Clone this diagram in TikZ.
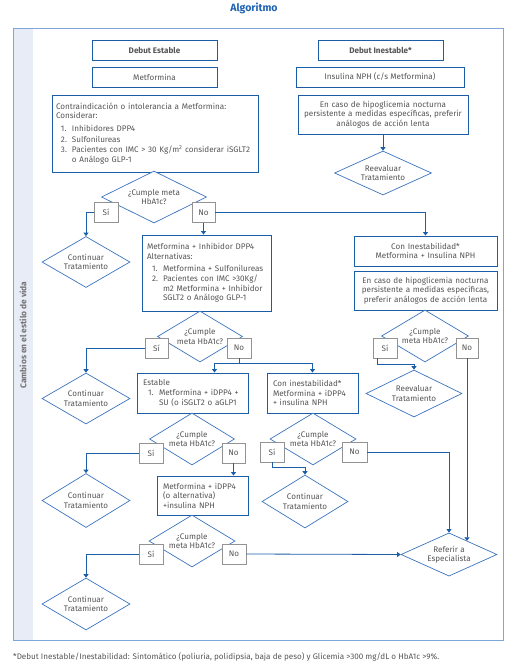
\documentclass[tikz,border=0pt]{standalone}
\usepackage{fontspec}
\setmainfont{Fira Sans}
\usetikzlibrary{shapes.geometric,arrows.meta}

\definecolor{boxblue}{HTML}{1B5EA6}
\definecolor{diablue}{HTML}{3C74BE}
\definecolor{frameblue}{HTML}{7FA6DA}
\definecolor{bandfill}{HTML}{E8ECF7}
\definecolor{txtgray}{HTML}{555555}
\definecolor{titleblue}{HTML}{1F63B3}

\newcommand{\numit}[1]{\hspace*{5pt}\makebox[11pt][l]{#1.}}
\newcommand{\contit}{\hspace*{16pt}}

\begin{document}
\begin{tikzpicture}[
    x=1pt, y=-1pt,
    font=\fontsize{8.1}{9.6}\selectfont,
    text=txtgray
]

% =========================
% Styles
% =========================
\tikzstyle{stepbox} = [
    rectangle, draw=boxblue,
    line width=0.9pt,
    fill=white,
    inner sep=2pt
]

\tikzstyle{textbox} = [
    stepbox,
    align=left,
    inner xsep=5pt
]

\tikzstyle{decision} = [
    diamond, draw=diablue,
    line width=0.7pt,
    aspect=1.7,
    inner sep=0pt,
    fill=white,
    align=center
]

\tikzstyle{answer} = [
    rectangle, draw=gray!85,
    line width=0.6pt,
    fill=white,
    inner sep=0pt,
    minimum width=24pt,
    minimum height=20pt
]

\tikzstyle{line} = [draw=boxblue, line width=0.8pt, -{Triangle[width=5pt,length=3.5pt]}]

\useasboundingbox (0,0) rectangle (527,672);

% =========================
% Frame
% =========================
\fill[bandfill] (13,28) rectangle (33,640);
\draw[frameblue, line width=0.8pt] (13,28) rectangle (503,640);

\node[font=\bfseries\fontsize{10.5}{12}\selectfont, text=titleblue] (titulo) at (254,8) {Algoritmo};

\node[rotate=90, font=\bfseries\fontsize{8.4}{10}\selectfont, text=gray!90!black] (banda) at (23,335)
    {Cambios en el estilo de vida};

% =========================
% Nodes (FIXED POSITIONS)
% =========================
\node[stepbox, minimum width=125pt, minimum height=20pt, font=\bfseries\fontsize{8.1}{9.6}\selectfont] (debest) at (154.5,50)
    {Debut Estable};
\node[stepbox, minimum width=125pt, minimum height=20pt, font=\bfseries\fontsize{8.1}{9.6}\selectfont] (debinest) at (380.5,50)
    {Debut Inestable*};

\node[stepbox, minimum width=125pt, minimum height=20pt] (metf) at (154.5,77)
    {Metformina};
\node[stepbox, minimum width=168pt, minimum height=20pt] (nph) at (380,77)
    {Insulina NPH (c/s Metformina)};

\node[textbox, text width=198pt, minimum height=77pt, inner xsep=4pt] (contra) at (155,133.5)
    {Contraindicación o intolerancia a Metformina:\\
     Considerar:\\[3pt]
     \numit{1}Inhibidores DPP4\\[1pt]
     \numit{2}Sulfonilureas\\[1pt]
     \numit{3}Pacientes con IMC > 30 Kg/m\textsuperscript{2} considerar iSGLT2\\
     \contit o Análogo GLP-1};

\node[stepbox, text width=167pt, minimum height=39pt, align=center, inner xsep=1.5pt] (hipo1) at (383,114.5)
    {En caso de hipoglicemia nocturna\\persistente a medidas específicas, preferir\\análogos de acción lenta};

\node[decision, minimum width=97pt, minimum height=44pt] (reev1) at (383,173)
    {Reevaluar\\Tratamiento};

% first check
\node[decision, minimum width=105pt, minimum height=52pt] (meta1) at (154,197)
    {¿Cumple meta\\HbA1c?};
\node[answer] (si1) at (106,212.5) {Sí};
\node[answer, minimum width=23pt] (no1) at (203.5,212.5) {No};

\node[decision, minimum width=88pt, minimum height=51pt] (cont1) at (86,262)
    {Continuar\\Tratamiento};

\node[textbox, text width=119pt, minimum height=76pt] (dpp4) at (206.5,273)
    {Metformina + Inhibidor DPP4\\
     Alternativas:\\[2pt]
     \numit{1}Metformina + Sulfonilureas\\[1pt]
     \numit{2}Pacientes con IMC >30Kg/\\
     \contit m2 Metformina + Inhibidor\\
     \contit SGLT2 o Análogo GLP-1};

\node[stepbox, text width=139pt, minimum height=30pt, align=center] (coninest) at (425.5,251)
    {Con Inestabilidad*\\Metformina + Insulina NPH};

\node[stepbox, text width=139pt, minimum height=39pt, align=center] (hipo2) at (425.5,290.5)
    {En caso de hipoglicemia nocturna\\persistente a medidas específicas,\\preferir análogos de acción lenta};

% right check
\node[decision, minimum width=87pt, minimum height=52pt] (meta3) at (425,336)
    {¿Cumple\\meta HbA1c?};
\node[answer] (si3) at (385,348) {Sí};
\node[answer, minimum width=22pt] (no3) at (467,348) {No};

\node[decision, minimum width=96pt, minimum height=47pt] (reev2) at (414,393.5)
    {Reevaluar\\Tratamiento};

% second check
\node[decision, minimum width=85pt, minimum height=51pt] (meta2) at (200,336.5)
    {¿Cumple\\meta HbA1c?};
\node[answer, minimum width=23pt] (si2) at (156.5,348) {Sí};
\node[answer] (no2) at (239,348) {No};

\node[decision, minimum width=88pt, minimum height=51pt] (cont2) at (86,398.5)
    {Continuar\\Tratamiento};

\node[textbox, text width=99pt, minimum height=40pt, inner xsep=6pt] (estab) at (192.5,393)
    {Estable\\
     \numit{1}Metformina + iDPP4 +\\
     \contit SU (o iSGLT2 o aGLP1};

\node[textbox, text width=79pt, minimum height=40pt, inner xsep=6pt] (inest) at (312.5,393)
    {Con inestabilidad*\\Metformina + iDPP4\\+ insulina NPH};

% third check (estable)
\node[decision, minimum width=85pt, minimum height=52pt] (meta4) at (192,439)
    {¿Cumple\\meta HbA1c?};
\node[answer] (si4) at (151,453) {Sí};
\node[answer, minimum width=23pt] (no4) at (233.5,453) {No};

\node[decision, minimum width=88pt, minimum height=54pt] (cont3) at (86,500.5)
    {Continuar\\Tratamiento};

\node[textbox, text width=79pt, minimum height=39pt, inner xsep=6pt] (metins) at (202.5,495.5)
    {Metformina + iDPP4\\(o alternativa)\\+insulina NPH};

\node[decision, minimum width=86pt, minimum height=52pt] (meta5) at (192,541)
    {¿Cumple\\meta HbA1c?};
\node[answer] (si5) at (151,554) {Sí};
\node[answer] (no5) at (234,554) {No};

\node[decision, minimum width=88pt, minimum height=52pt] (cont4) at (86,604)
    {Continuar\\Tratamiento};

% third check (inestable)
\node[decision, minimum width=86pt, minimum height=52pt] (meta6) at (313,439)
    {¿Cumple\\meta HbA1c?};
\node[answer] (si6) at (272,452) {Sí};
\node[answer, minimum width=25pt] (no6) at (354.5,452) {No};

\node[decision, minimum width=86pt, minimum height=53pt] (cont5) at (305,501.5)
    {Continuar\\Tratamiento};

\node[decision, minimum width=96pt, minimum height=43pt] (refer) at (449,554.5)
    {Referir a\\Especialista};

\node[anchor=west, inner sep=0pt] (nota) at (13,657)
    {*Debut Inestable/Inestabilidad: Sintomático (poliuria, polidipsia, baja de peso) y Glicemia >300 mg/dL o HbA1c >9\%.};

% =========================
% Connections
% =========================
\path (refer.north) -- (refer.east) coordinate[pos=0.375] (refin);
\coordinate (split2) at ([yshift=-5pt]no2.south);

\path[line] (hipo1.south) -- (reev1.north);

\path[line] (si1.west) -| (cont1.north);
\path[line] (no1.east) -| (coninest.north);
\path[line] (no1.south) -- (no1.south |- dpp4.north);

\path[line] (si2.west) -| (cont2.north);
\draw[boxblue, line width=0.8pt] (no2.south) -- (split2);
\path[line] (split2) -| ([xshift=22pt]estab.north);
\path[line] (split2) -| (inest.north);

\path[line] ([xshift=-8pt]si3.south) -- ++(0,6) -| (reev2.north);
\path[line] (no3.south) -- (no3.south |- refin);

\path[line] (si4.west) -| (cont3.north);
\path[line] (no4.south) -- (no4.south |- metins.north);

\path[line] (si5.west) -| (cont4.north);
\path[line] (no5.east) -- (refer.west);

\path[line] (si6.south) -- ++(0,5) -| (cont5.north);
\path[line] (no6.east) -| (refer.north);

\end{tikzpicture}
\end{document}
